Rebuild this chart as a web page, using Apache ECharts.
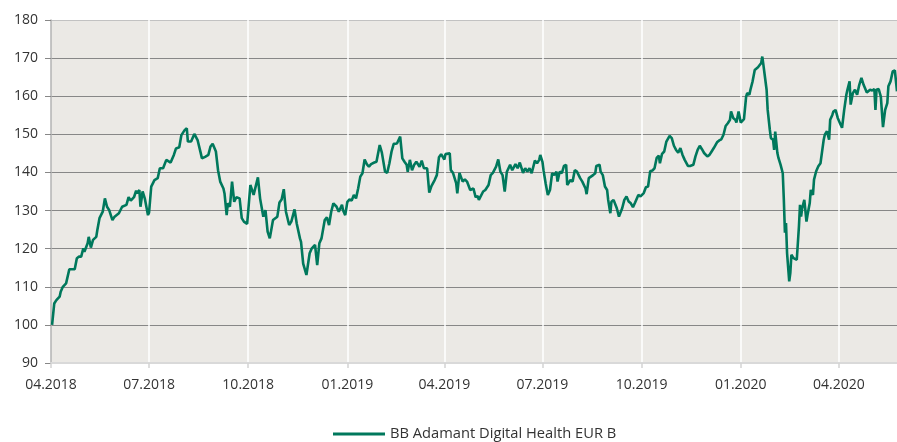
<!DOCTYPE html>
<html><head><meta charset="utf-8">
<script src="https://cdn.jsdelivr.net/npm/echarts@6/dist/echarts.min.js"></script>
<style>html,body{margin:0;padding:0;background:#fff}#c{width:897px;height:442px}</style>
</head><body><div id="c"></div>
<script>
const seriesName = 'BB Adamant Digital Health EUR B';
const axisStart = '2018-04-01';
const axisEnd = '2020-05-25';
const labelMonths = ['01', '04', '07', '10'];
const yMin = 90, yMax = 180, yStep = 10;

const dates = [
'2018-04-02','2018-04-03','2018-04-04','2018-04-06','2018-04-09','2018-04-10','2018-04-12','2018-04-15','2018-04-18','2018-04-19',
'2018-04-23','2018-04-25','2018-04-27','2018-04-29','2018-05-01','2018-05-02','2018-05-05','2018-05-06','2018-05-08','2018-05-10',
'2018-05-13','2018-05-14','2018-05-16','2018-05-19','2018-05-21','2018-05-23','2018-05-25','2018-05-28','2018-05-30','2018-06-03',
'2018-06-06','2018-06-10','2018-06-12','2018-06-14','2018-06-17','2018-06-19','2018-06-20','2018-06-22','2018-06-23','2018-06-25',
'2018-06-27','2018-06-30','2018-07-01','2018-07-03','2018-07-06','2018-07-09','2018-07-11','2018-07-14','2018-07-17','2018-07-21',
'2018-07-24','2018-07-26','2018-07-29','2018-07-31','2018-08-03','2018-08-05','2018-08-06','2018-08-09','2018-08-12','2018-08-15',
'2018-08-18','2018-08-19','2018-08-22','2018-08-25','2018-08-27','2018-08-29','2018-09-01','2018-09-03','2018-09-05','2018-09-08',
'2018-09-09','2018-09-11','2018-09-12','2018-09-14','2018-09-16','2018-09-18','2018-09-20','2018-09-23','2018-09-25','2018-09-27',
'2018-09-30','2018-10-03','2018-10-06','2018-10-10','2018-10-12','2018-10-15','2018-10-17','2018-10-19','2018-10-21','2018-10-24',
'2018-10-28','2018-10-30','2018-11-01','2018-11-03','2018-11-05','2018-11-08','2018-11-10','2018-11-13','2018-11-15','2018-11-18',
'2018-11-19','2018-11-21','2018-11-24','2018-11-27','2018-11-29','2018-12-02','2018-12-04','2018-12-06','2018-12-08','2018-12-11',
'2018-12-13','2018-12-15','2018-12-17','2018-12-19','2018-12-22','2018-12-24','2018-12-27','2018-12-28','2018-12-30',
'2019-01-01','2019-01-03','2019-01-05','2019-01-07','2019-01-09','2019-01-11','2019-01-13','2019-01-15','2019-01-17','2019-01-19',
'2019-01-21','2019-01-23','2019-01-26','2019-01-28','2019-01-31','2019-02-02','2019-02-03','2019-02-05','2019-02-07','2019-02-09',
'2019-02-11','2019-02-13','2019-02-16','2019-02-19','2019-02-21','2019-02-23','2019-02-25','2019-02-26','2019-02-28','2019-03-02',
'2019-03-04','2019-03-06','2019-03-09','2019-03-11','2019-03-13','2019-03-16','2019-03-18','2019-03-20','2019-03-23','2019-03-25',
'2019-03-27','2019-03-29','2019-04-01','2019-04-02','2019-04-06','2019-04-07','2019-04-09','2019-04-12','2019-04-13','2019-04-15',
'2019-04-18','2019-04-20','2019-04-22','2019-04-25','2019-04-28','2019-04-30','2019-05-02','2019-05-03','2019-05-04','2019-05-07',
'2019-05-09','2019-05-12','2019-05-14','2019-05-16','2019-05-19','2019-05-21','2019-05-23','2019-05-25','2019-05-27','2019-05-29',
'2019-06-01','2019-06-03','2019-06-06','2019-06-08','2019-06-10','2019-06-13','2019-06-15','2019-06-17','2019-06-19','2019-06-21',
'2019-06-24','2019-06-26','2019-06-28','2019-06-29','2019-07-01','2019-07-02','2019-07-04','2019-07-06','2019-07-08','2019-07-10',
'2019-07-12','2019-07-14','2019-07-15','2019-07-17','2019-07-19','2019-07-21','2019-07-23','2019-07-24','2019-07-27','2019-07-29',
'2019-07-31','2019-08-02','2019-08-05','2019-08-07','2019-08-10','2019-08-11','2019-08-13','2019-08-15','2019-08-17','2019-08-19',
'2019-08-20','2019-08-23','2019-08-24','2019-08-26','2019-08-28','2019-08-30','2019-08-31','2019-09-02','2019-09-03','2019-09-05',
'2019-09-08','2019-09-10','2019-09-13','2019-09-15','2019-09-17','2019-09-19','2019-09-21','2019-09-23','2019-09-25','2019-09-28',
'2019-09-30','2019-10-03','2019-10-05','2019-10-07','2019-10-09','2019-10-11','2019-10-13','2019-10-15','2019-10-17','2019-10-18',
'2019-10-20','2019-10-22','2019-10-24','2019-10-27','2019-10-29','2019-10-31','2019-11-02','2019-11-04','2019-11-06','2019-11-08',
'2019-11-10','2019-11-13','2019-11-15','2019-11-18','2019-11-20','2019-11-22','2019-11-24','2019-11-26','2019-11-28','2019-12-01',
'2019-12-03','2019-12-05','2019-12-07','2019-12-10','2019-12-12','2019-12-14','2019-12-16','2019-12-18','2019-12-20','2019-12-22',
'2019-12-23','2019-12-25','2019-12-27','2019-12-28','2019-12-30','2020-01-01','2020-01-02','2020-01-04','2020-01-06','2020-01-07',
'2020-01-09','2020-01-10','2020-01-12','2020-01-13','2020-01-14','2020-01-17','2020-01-18','2020-01-20','2020-01-21','2020-01-22',
'2020-01-23','2020-01-25','2020-01-26','2020-01-28','2020-01-29','2020-01-31','2020-02-01','2020-02-02','2020-02-04','2020-02-05',
'2020-02-07','2020-02-09','2020-02-10','2020-02-11','2020-02-12','2020-02-13','2020-02-15','2020-02-16','2020-02-17','2020-02-19',
'2020-02-22','2020-02-24','2020-02-25','2020-02-26','2020-02-27','2020-02-29','2020-03-02','2020-03-03','2020-03-05','2020-03-06',
'2020-03-08','2020-03-09','2020-03-11','2020-03-13','2020-03-15','2020-03-16','2020-03-18','2020-03-19','2020-03-21','2020-03-23',
'2020-03-24','2020-03-26','2020-03-27','2020-03-29','2020-03-30','2020-03-31','2020-04-02','2020-04-04','2020-04-06','2020-04-08',
'2020-04-09','2020-04-11','2020-04-12','2020-04-14','2020-04-16','2020-04-18','2020-04-20','2020-04-22','2020-04-24','2020-04-27',
'2020-04-30','2020-05-02','2020-05-04','2020-05-05','2020-05-06','2020-05-08','2020-05-10','2020-05-11','2020-05-12','2020-05-14',
'2020-05-16','2020-05-17','2020-05-19','2020-05-21','2020-05-23','2020-05-25'
];
const values = [
100.0,100.4,105.6,106.5,107.4,108.7,110.0,110.9,114.6,115.1,
114.6,117.5,117.9,117.9,120.1,119.2,121.4,123.1,120.3,122.3,
123.1,124.9,128.0,129.7,133.2,131.0,130.1,127.5,128.4,129.3,
131.0,131.5,133.5,132.6,133.5,135.2,134.5,135.4,131.0,135.0,
133.2,128.8,129.5,136.3,138.0,138.5,141.1,141.1,143.3,142.6,
144.6,146.3,146.6,149.8,151.1,151.6,148.1,148.1,150.1,148.5,
145.0,143.7,144.1,144.6,146.8,147.5,145.5,140.6,137.6,135.8,
134.5,128.8,131.9,131.0,137.6,132.3,133.5,133.2,128.0,127.1,
126.5,136.7,134.1,138.7,133.2,128.4,130.1,124.5,122.7,127.5,
128.4,132.1,132.9,135.6,129.7,126.2,127.1,130.3,126.6,122.7,
121.8,116.1,113.1,118.8,120.1,121.0,115.7,121.4,122.7,127.5,
128.2,126.2,129.7,131.9,131.0,129.7,131.5,130.1,128.8,
132.3,132.9,132.6,134.1,133.2,135.8,138.9,139.8,143.4,142.2,
141.5,142.2,142.6,142.8,147.2,145.2,145.0,140.2,139.9,142.4,
145.5,147.5,147.6,149.4,143.7,142.8,142.0,140.2,143.3,140.6,
142.0,142.8,141.5,143.1,141.1,141.1,134.7,136.4,138.0,139.3,
144.0,144.8,143.4,144.8,145.0,140.6,139.9,137.1,134.5,139.9,
137.6,138.2,137.6,135.4,135.8,133.5,133.8,132.8,132.6,135.0,
135.4,136.7,139.3,139.9,141.5,143.4,140.2,139.3,135.0,140.2,
142.0,140.6,142.2,141.1,142.6,139.9,141.1,140.2,141.1,139.8,
143.1,142.4,143.3,144.6,142.8,140.6,137.1,134.1,135.4,139.8,
139.3,140.2,137.6,140.2,139.8,141.7,142.0,136.7,138.0,137.6,
140.6,140.2,138.5,137.6,135.8,134.3,138.5,138.9,139.3,139.8,
141.7,142.0,140.2,139.3,136.3,135.4,132.8,129.3,132.3,132.8,
130.6,128.4,130.6,132.8,133.7,132.4,131.9,130.9,132.1,134.1,
133.7,134.6,136.1,136.3,140.3,140.5,141.1,143.8,144.4,142.4,
144.9,145.5,148.1,149.6,149.0,147.0,145.9,145.2,146.4,144.6,
143.3,141.7,141.7,142.0,144.2,145.9,147.0,146.1,145.1,144.2,
144.6,145.5,146.4,147.9,148.4,148.7,149.9,152.2,152.9,153.8,
156.0,154.3,153.8,153.1,156.0,153.1,152.9,154.0,159.9,160.8,
160.4,161.7,163.9,164.3,166.9,167.6,168.0,168.7,170.4,168.3,
166.1,161.7,156.4,151.2,149.0,148.6,145.9,150.7,145.1,143.8,
142.0,139.8,132.8,124.2,126.7,118.8,111.4,113.6,118.4,117.5,
117.1,125.8,131.5,128.4,130.6,132.8,127.1,128.9,131.9,135.4,
134.1,138.1,140.3,141.6,142.4,142.9,148.6,149.9,150.8,148.6,
153.8,155.1,156.0,156.4,156.9,154.3,153.0,151.7,156.4,160.4,
161.7,163.9,157.8,160.8,161.7,160.4,163.0,164.8,163.0,161.0,
161.7,161.5,161.9,156.4,161.7,161.9,159.9,160.4,151.9,156.4,
158.2,162.6,163.9,166.5,166.8,161.3
];

const categories = [];
for (let t = Date.parse(axisStart + 'T00:00:00Z'); t <= Date.parse(axisEnd + 'T00:00:00Z'); t += 86400000) {
  categories.push(new Date(t).toISOString().slice(0, 10));
}
const isQuarterStart = (v) => v.slice(8) === '01' && labelMonths.includes(v.slice(5, 7));

const yCount = (yMax - yMin) / yStep + 1;
const hColors = [];
for (let i = 0; i < yCount; i++) hColors.push(i === 0 ? '#d9d9d9' : (i === yCount - 1 ? '#c2c2c2' : '#878787'));

const chart = echarts.init(document.getElementById('c'), null, {renderer: 'canvas'});
chart.setOption({
  animation: false,
  textStyle: {fontFamily: 'Open Sans'},
  grid: {left: 51, right: 0, top: 20, bottom: 79, show: true, backgroundColor: '#ebe9e5', borderWidth: 0},
  legend: {
    left: 328, top: 419,
    icon: 'rect', itemWidth: 52, itemHeight: 3,
    textStyle: {fontFamily: 'Open Sans', fontSize: 14.7, color: '#333', lineHeight: 20},
    data: [seriesName]
  },
  xAxis: {
    type: 'category', data: categories, boundaryGap: false,
    axisLine: {show: true, lineStyle: {color: '#d9d9d9', width: 2}},
    axisTick: {show: true, length: 5, interval: (i, v) => isQuarterStart(v), lineStyle: {color: '#d3d3d3', width: 1.5}},
    axisLabel: {
      interval: (i, v) => isQuarterStart(v),
      formatter: (v) => v.slice(5, 7) + '.' + v.slice(0, 4),
      fontFamily: 'Open Sans', fontSize: 14, color: '#333', margin: 15
    },
    splitLine: {show: true, interval: (i, v) => i > 0 && isQuarterStart(v), lineStyle: {color: '#ffffff', width: 1.5}}
  },
  yAxis: {
    type: 'value', min: yMin, max: yMax, interval: yStep,
    axisLine: {show: true, lineStyle: {color: '#b3b3b3', width: 1.5}},
    axisTick: {show: true, length: 6, lineStyle: {color: '#878787'}},
    axisLabel: {fontFamily: 'Open Sans', fontSize: 14, color: '#333', margin: 13},
    splitLine: {show: true, lineStyle: {color: hColors, width: 1.2}}
  },
  series: [{
    name: seriesName, type: 'line', showSymbol: false,
    data: dates.map((d, i) => [d, values[i]]),
    lineStyle: {color: '#00785c', width: 2.6}, itemStyle: {color: '#00785c'}
  }]
});
</script></body></html>
